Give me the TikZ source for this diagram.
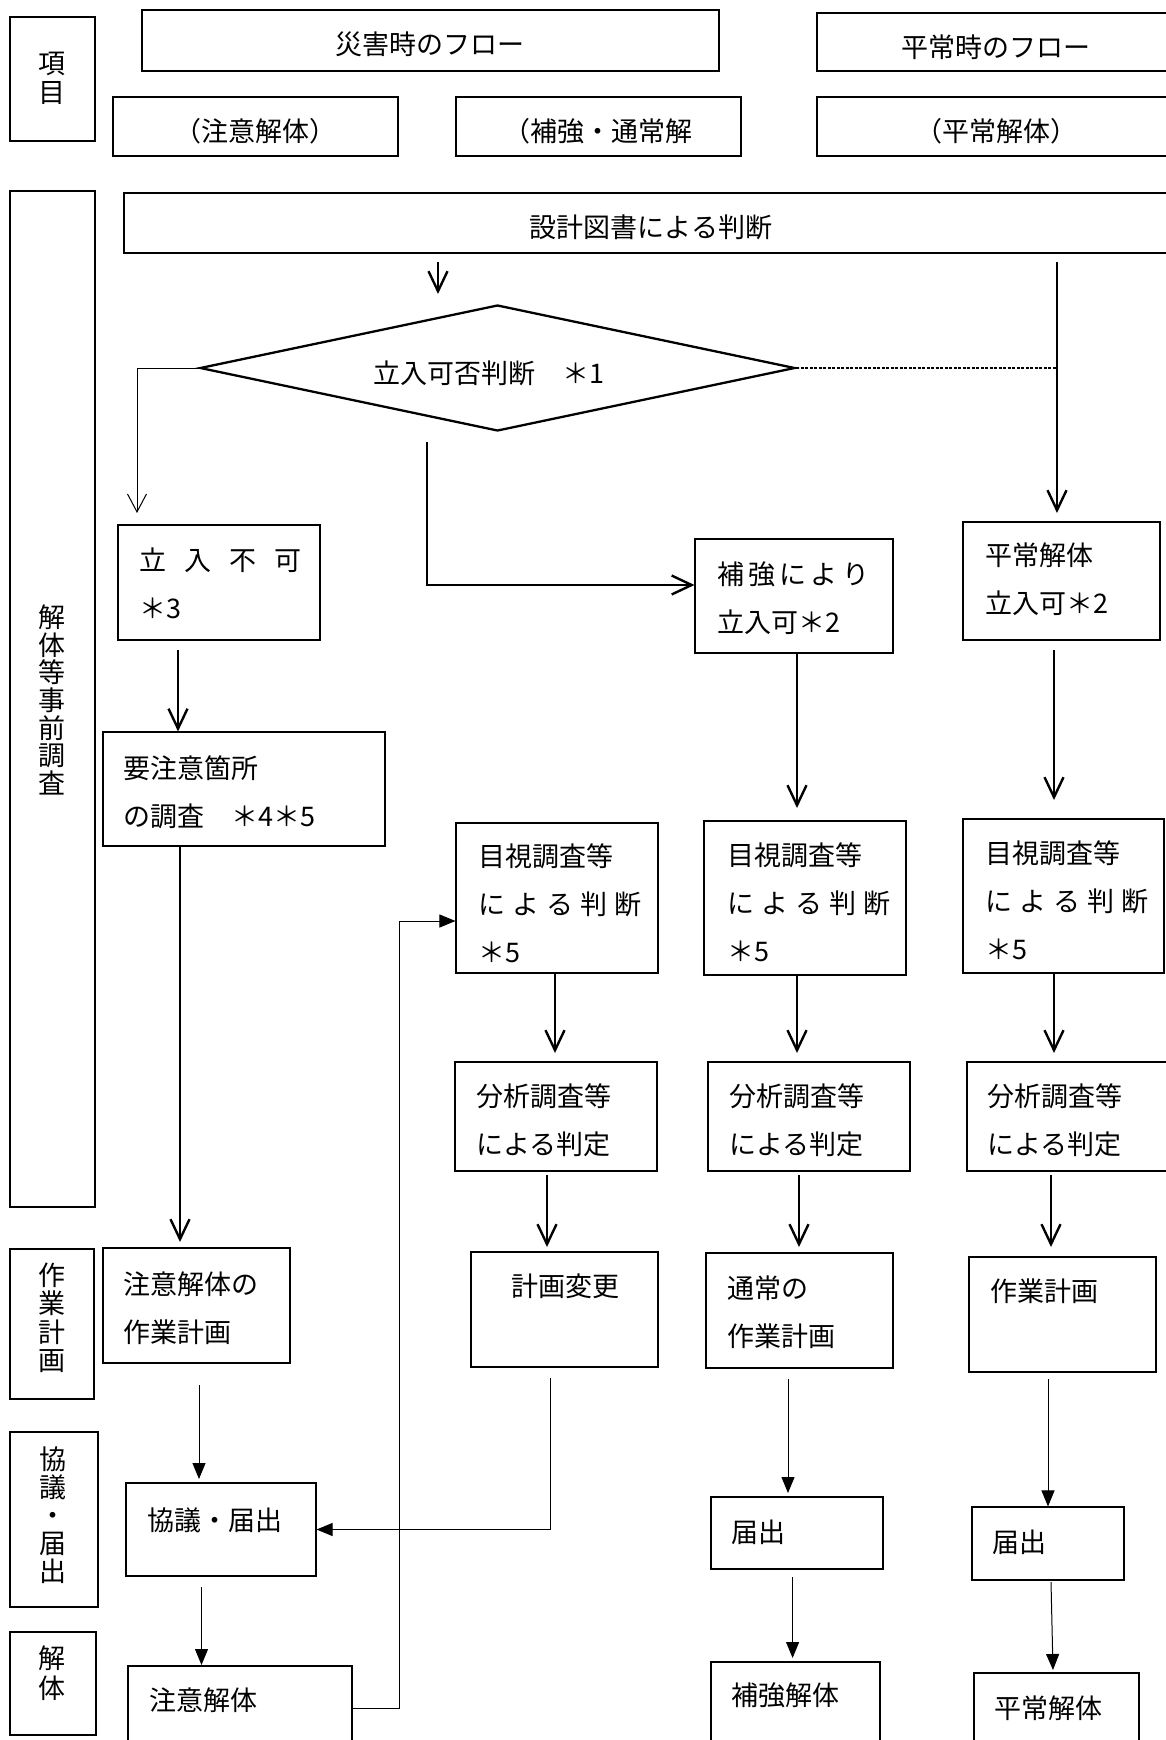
\documentclass[tikz,border=0pt]{standalone}
\usepackage{fontspec}
\setmainfont{Noto Sans CJK JP}
\usetikzlibrary{arrows.meta,shapes.geometric}
\newcommand\mybox[5]{\node[box,minimum width={(#4)-(#2)},minimum height={(#5)-(#3)}] (#1) at ({((#2)+(#4))/2},{((#3)+(#5))/2}) {};}
\newcommand\tl[1]{\parbox[t]{400pt}{\raggedright #1}}
\newcommand\spread[2]{\makebox[#1][s]{#2}}
\begin{document}
\begin{tikzpicture}[x=1pt,y=-1pt,
  box/.style={draw,line width=1.1pt,inner sep=0pt},
  txt/.style={anchor=base west,inner sep=0pt,font=\fontsize{27}{48}\selectfont},
  ctxt/.style={txt,anchor=base},
  vtxt/.style={inner sep=0pt,align=center},
  thk/.style={line width=2.4pt,-{Straight Barb[length=20pt,width=19pt,line width=2.4pt]}},
  thn/.style={line width=1pt,-{Straight Barb[length=18pt,width=19pt,line width=1pt]}},
  tri/.style={line width=1pt,-{Triangle[length=16pt,width=13pt]}},
  dot/.style={line width=1.2pt,dash pattern=on 3pt off 1.5pt}]
\useasboundingbox (0,0) rectangle (1166,1740);
\clip (0,0) rectangle (1166,1740);
\fill[white] (0,0) rectangle (1166,1740);
% ---- boxes
\mybox{lab1}{10}{17}{95}{141}
\mybox{h1}{142}{10}{719}{71}
\mybox{h2}{817}{13}{1190}{71}
\mybox{s1}{113}{97}{398}{156}
\mybox{s2}{456}{97}{741}{156}
\mybox{s3}{817}{97}{1190}{156}
\mybox{lab2}{10}{191}{95}{1207}
\mybox{sk}{124}{193}{1190}{253}
\node[draw,diamond,line width=2.3pt,minimum width=595pt,minimum height=126pt,inner sep=0pt] (dia) at (497.5,368) {};
\mybox{nf}{118}{525}{320}{640}
\mybox{hk}{695}{539}{893}{653}
\mybox{hj}{963}{522}{1160}{640}
\mybox{yo}{103}{732}{385}{846}
\mybox{mA}{456}{823}{658}{973}
\mybox{mB}{704}{821}{906}{975}
\mybox{mC}{963}{819}{1164}{973}
\mybox{bA}{455}{1062}{657}{1171}
\mybox{bB}{708}{1062}{910}{1171}
\mybox{bC}{967}{1062}{1172}{1171}
\mybox{lab3}{10}{1249}{94}{1399}
\mybox{cA}{103}{1248}{290}{1363}
\mybox{kh}{471}{1252}{658}{1367}
\mybox{ts}{706}{1253}{893}{1368}
\mybox{sgC}{969}{1257}{1156}{1372}
\mybox{lab4}{10}{1432}{98}{1607}
\mybox{kg}{126}{1483}{316}{1576}
\mybox{tdB}{711}{1497}{883}{1569}
\mybox{tdC}{972}{1507}{1124}{1580}
\mybox{lab5}{10}{1632}{96}{1735}
\mybox{cd}{128}{1666}{352}{1770}
\mybox{hkd}{711}{1662}{880}{1770}
\mybox{hjd}{974}{1673}{1139}{1770}
% ---- texts
\node[vtxt,font=\fontsize{27}{29}\selectfont] (v1) at (52,78) {項\\目};
\node[vtxt,font=\fontsize{27}{27.7}\selectfont] (v2) at (52,700) {解\\体\\等\\事\\前\\調\\査};
\node[vtxt,font=\fontsize{27}{28.5}\selectfont] (v3) at (52,1318) {作\\業\\計\\画};
\node[vtxt,font=\fontsize{27}{28}\selectfont] (v4) at (53,1515) {協\\議\\・\\届\\出};
\node[vtxt,font=\fontsize{27}{30}\selectfont] (v5) at (52,1673) {解\\体};
\node[ctxt] (t1) at (430,54) {災害時のフロー};
\node[ctxt] (t2) at (996,57) {平常時のフロー};
\node[ctxt] (t3) at (255,141) {（注意解体）};
\node[txt] (t4) at (503,141) {（補強・通常解};
\node[ctxt] (t5) at (996,141) {（平常解体）};
\node[ctxt] (t6) at (651,237) {設計図書による判断};
\node[txt] (t7) at (373,383) {立入可否判断　＊1};
\node[txt] (t8) at (139,570) {\tl{\spread{162pt}{立\hfil 入\hfil 不\hfil 可}\\＊3}};
\node[txt] (t9) at (717,584) {\tl{\spread{152pt}{補\hfil 強\hfil に\hfil よ\hfil り}\\立入可＊2}};
\node[txt] (t10) at (985,565) {\tl{平常解体\\立入可＊2}};
\node[txt] (t11) at (123,778) {\tl{要注意箇所\\の調査　＊4＊5}};
\node[txt] (t12) at (478,866) {\tl{目視調査等\\\spread{163pt}{に\hfil よ\hfil る\hfil 判\hfil 断}\\＊5}};
\node[txt] (t13) at (727,865) {\tl{目視調査等\\\spread{163pt}{に\hfil よ\hfil る\hfil 判\hfil 断}\\＊5}};
\node[txt] (t14) at (985,863) {\tl{目視調査等\\\spread{163pt}{に\hfil よ\hfil る\hfil 判\hfil 断}\\＊5}};
\node[txt] (t15) at (476,1106) {\tl{分析調査等\\による判定}};
\node[txt] (t16) at (729,1106) {\tl{分析調査等\\による判定}};
\node[txt] (t17) at (987,1106) {\tl{分析調査等\\による判定}};
\node[ctxt] (t18) at (565,1296) {計画変更};
\node[txt] (t19) at (727,1298) {\tl{通常の\\作業計画}};
\node[txt] (t20) at (990,1301) {作業計画};
\node[txt] (t21) at (123,1294) {\tl{注意解体の\\作業計画}};
\node[txt] (t22) at (147,1530) {協議・届出};
\node[txt] (t23) at (731,1542) {届出};
\node[txt] (t24) at (992,1552) {届出};
\node[txt] (t25) at (149,1710) {注意解体};
\node[txt] (t26) at (731,1705) {補強解体};
\node[txt] (t27) at (994,1718) {平常解体};
% ---- connectors
\coordinate (p1) at (438,262); \coordinate (p2) at (438,294);
\draw[thk] (p1) -- (p2);
\coordinate (q1) at (1057,262); \coordinate (q2) at (1057,513);
\draw[thk,line width=2.8pt] (q1) -- (q2);
\draw[dot] (dia.east) -- (dia.east -| q1);
\coordinate (l2) at (137,513);
\draw[thn] (dia.west) -| (l2);
\coordinate (m1) at (427,442);
\draw[thk] (m1) |- ([yshift=11pt]hk.west);
\coordinate (r1) at (178,650);
\draw[thk] (r1) -- (r1 |- yo.north);
\coordinate (r2) at (180,846); \coordinate (r3) at (180,1242);
\draw[thk] (r2) -- (r3);
\coordinate (r4) at (797,653); \coordinate (r5) at (797,808);
\draw[thk] (r4) -- (r5);
\coordinate (r6) at (1054,650); \coordinate (r7) at (1054,800);
\draw[thk] (r6) -- (r7);
\coordinate (s1a) at (555,973); \coordinate (s1b) at (555,1053);
\draw[thk] (s1a) -- (s1b);
\coordinate (s2a) at (797,975); \coordinate (s2b) at (797,1053);
\draw[thk] (s2a) -- (s2b);
\coordinate (s3a) at (1054,973); \coordinate (s3b) at (1054,1053);
\draw[thk] (s3a) -- (s3b);
\coordinate (u1a) at (547,1175); \coordinate (u1b) at (547,1247);
\draw[thk] (u1a) -- (u1b);
\coordinate (u2a) at (799,1175); \coordinate (u2b) at (799,1247);
\draw[thk] (u2a) -- (u2b);
\coordinate (u3a) at (1051,1175); \coordinate (u3b) at (1051,1247);
\draw[thk] (u3a) -- (u3b);
\coordinate (w1a) at (199,1385); \coordinate (w1b) at (199,1479);
\draw[tri] (w1a) -- (w1b);
\coordinate (w2a) at (550,1378);
\draw[tri] (w2a) |- (kg.east);
\coordinate (w3a) at (788,1379); \coordinate (w3b) at (788,1493);
\draw[tri] (w3a) -- (w3b);
\coordinate (w4a) at (1048,1379);
\draw[tri] (w4a) -- (w4a |- tdC.north);
\coordinate (w5a) at (201.5,1587); \coordinate (w5b) at (201.5,1665);
\draw[tri] (w5a) -- (w5b);
\coordinate (w6a) at (792.6,1577); \coordinate (w6b) at (792.6,1658);
\draw[tri] (w6a) -- (w6b);
\coordinate (w7a) at (1051,1582); \coordinate (w7b) at (1053,1670);
\draw[tri] (w7a) -- (w7b);
\coordinate (rt) at (399,1708);
\draw[tri] (cd.east |- rt) -- (rt) |- (mA.west |- 0,921);
\end{tikzpicture}
\end{document}
